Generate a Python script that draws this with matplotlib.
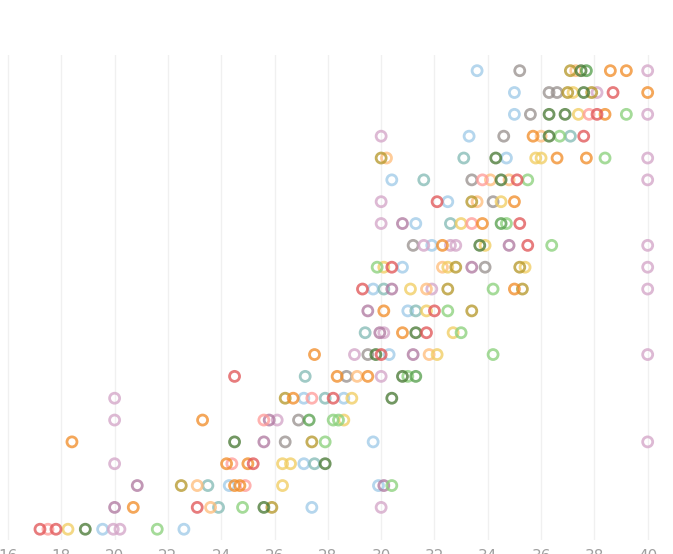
import matplotlib
matplotlib.use("Agg")
import matplotlib.pyplot as plt

# rows are counted from the top (0) to the bottom (21)
blue_x = [33.6, 35.0, 35.0, 33.3, 34.7, 30.4, 32.5, 31.3, 31.9, 30.8, 29.7, 31.0, 30.3,
          27.1, 28.6, 29.7, 27.1, 24.3, 29.9, 27.4, 19.55, 22.6]
blue_row = [0, 1, 2, 3, 4, 5, 6, 7, 8, 9, 10, 11, 13, 15, 15, 17, 18, 19, 19, 20, 21, 21]

teal_x = [37.1, 33.1, 31.6, 32.6, 30.1, 31.3, 29.4, 27.15, 27.9, 27.5, 23.5, 23.9]
teal_row = [3, 4, 5, 7, 10, 11, 12, 14, 15, 18, 19, 20]

gray_x = [35.2, 36.3, 36.6, 35.6, 34.6, 33.4, 34.2, 31.2, 33.9, 29.5, 28.7, 26.9, 26.4]
gray_row = [0, 1, 1, 2, 3, 5, 6, 8, 9, 13, 14, 16, 17]

orange_x = [38.6, 39.2, 40.0, 38.4, 35.7, 36.6, 37.7, 35.0, 33.8, 32.3, 35.0, 30.1, 30.8,
            27.5, 28.35, 29.5, 26.7, 23.3, 18.4, 24.2, 25.0, 24.5, 24.7, 20.7]
orange_row = [0, 0, 1, 2, 3, 4, 4, 6, 7, 8, 10, 11, 12, 13, 14, 14, 15, 16, 17, 18, 18,
              19, 19, 20]

lorange_x = [37.3, 36.0, 30.2, 34.1, 34.8, 33.6, 32.3, 31.7, 31.8, 29.1, 23.1, 23.6]
lorange_row = [0, 3, 4, 5, 5, 6, 9, 10, 13, 14, 19, 20]

dgreen_x = [37.5, 37.6, 36.3, 36.9, 36.3, 34.3, 34.5, 33.7, 31.3, 29.8, 30.8, 30.4, 24.5,
            27.9, 25.6, 18.9]
dgreen_row = [0, 1, 2, 2, 3, 4, 5, 8, 12, 13, 14, 15, 17, 18, 20, 21]

green_x = [37.7, 34.5, 31.3, 27.3]
green_row = [0, 7, 14, 16]

lgreen_x = [39.2, 36.7, 38.4, 35.5, 34.7, 36.4, 29.85, 34.2, 32.5, 33.0, 34.2, 31.0, 28.2,
            28.4, 27.9, 30.4, 24.8, 21.6]
lgreen_row = [2, 3, 4, 5, 7, 8, 9, 10, 11, 12, 13, 14, 16, 16, 17, 19, 20, 21]

olive_x = [37.1, 37.0, 37.9, 30.0, 33.4, 32.8, 35.2, 32.5, 35.3, 33.4, 26.4, 27.4, 22.5, 25.9]
olive_row = [0, 1, 1, 4, 6, 9, 9, 10, 10, 11, 15, 17, 19, 20]

yellow_x = [37.2, 37.4, 35.8, 36.0, 34.5, 33.0, 33.9, 30.1, 32.5, 35.4, 31.1, 31.7, 32.7,
            32.1, 28.9, 28.6, 26.3, 26.6, 26.3, 18.25]
yellow_row = [1, 2, 4, 4, 6, 7, 8, 9, 9, 9, 10, 11, 12, 13, 15, 16, 18, 18, 19, 21]

red_x = [38.7, 38.1, 37.6, 35.1, 32.1, 35.2, 35.5, 30.4, 29.3, 32.0, 31.7, 30.0, 24.5, 28.2,
         25.2, 23.1, 17.2, 17.8]
red_row = [1, 2, 3, 5, 6, 7, 8, 9, 10, 11, 12, 13, 14, 15, 18, 20, 21, 21]

pink_x = [37.8, 33.8, 33.4, 27.4, 25.6, 24.4, 24.9, 17.5]
pink_row = [2, 5, 7, 15, 16, 18, 19, 21]

purple_x = [30.8, 34.8, 33.4, 30.4, 29.5, 29.95, 31.2, 25.8, 25.6, 20.85, 30.1, 20.0]
purple_row = [7, 8, 9, 10, 11, 12, 13, 16, 17, 19, 19, 20]

lilac_x = [40.0, 38.1, 40.0, 30.0, 40.0, 40.0, 30.0, 30.0, 31.6, 32.6, 32.8, 40.0, 40.0,
           31.9, 40.0, 30.1, 29.0, 40.0, 30.0, 20.0, 20.0, 26.1, 40.0, 20.0, 30.0, 19.95, 20.2]
lilac_row = [0, 1, 2, 3, 4, 5, 6, 7, 8, 8, 8, 8, 9, 10, 10, 12, 13, 13, 14, 15, 16, 16, 17,
             18, 20, 21, 21]

x_ticks = [16, 18, 20, 22, 24, 26, 28, 30, 32, 34, 36, 38, 40]

series = [
    (blue_x, blue_row, '#a0cbe8'),
    (teal_x, teal_row, '#86bcb6'),
    (gray_x, gray_row, '#9a9390'),
    (lilac_x, lilac_row, '#d4a6c8'),
    (purple_x, purple_row, '#b07aa1'),
    (lorange_x, lorange_row, '#ffbe7d'),
    (yellow_x, yellow_row, '#f1ce63'),
    (olive_x, olive_row, '#b6992d'),
    (lgreen_x, lgreen_row, '#8cd17d'),
    (green_x, green_row, '#59a14f'),
    (dgreen_x, dgreen_row, '#4a7a36'),
    (pink_x, pink_row, '#ff9d9a'),
    (orange_x, orange_row, '#f28e2b'),
    (red_x, red_row, '#e15759'),
]

fig = plt.figure(figsize=(6.73, 5.54), dpi=100)
ax = fig.add_axes([0, 0.025, 1, 0.875])

for xs, rows, col in series:
    ax.scatter(xs, rows, s=52, facecolors='none', edgecolors=col, linewidths=2.0,
               alpha=0.78, zorder=3)

ax.set_xlim(15.7, 40.95)
ax.set_ylim(21.5, -0.7)
ax.set_xticks(x_ticks)
ax.set_yticks([])
ax.grid(axis='x', color='#f0f0f0', lw=1, zorder=0)
ax.tick_params(axis='x', length=0, pad=6.5, labelsize=11, labelcolor='#a0a0a0')
for s in ax.spines.values():
    s.set_visible(False)

fig.savefig("out.png", dpi=100)
